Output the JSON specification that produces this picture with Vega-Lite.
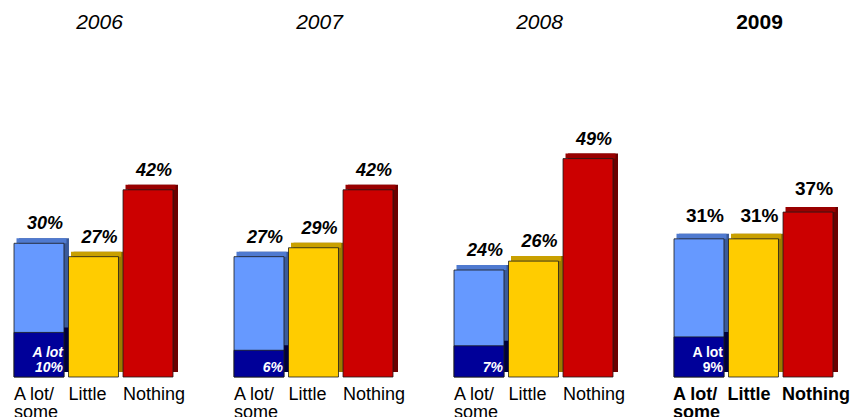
{
  "$schema": "https://vega.github.io/schema/vega-lite/v6.json",
  "background": "white",
  "padding": {"left": 13, "top": 12, "right": 0, "bottom": 0},
  "config": {
    "font": "Liberation Sans",
    "view": {"stroke": null},
    "title": {"fontSize": 21, "color": "black", "offset": 32, "anchor": "middle", "dx": 6}
  },
  "datasets": {
    "survey": [
      {"year": "2006", "cat": "A lot/some", "total": 30, "alot": 10, "label": "30%", "innerTop": "A lot", "inner": "10%"},
      {"year": "2006", "cat": "Little", "total": 27, "label": "27%"},
      {"year": "2006", "cat": "Nothing", "total": 42, "label": "42%"},
      {"year": "2007", "cat": "A lot/some", "total": 27, "alot": 6, "label": "27%", "inner": "6%"},
      {"year": "2007", "cat": "Little", "total": 29, "label": "29%"},
      {"year": "2007", "cat": "Nothing", "total": 42, "label": "42%"},
      {"year": "2008", "cat": "A lot/some", "total": 24, "alot": 7, "label": "24%", "inner": "7%"},
      {"year": "2008", "cat": "Little", "total": 26, "label": "26%"},
      {"year": "2008", "cat": "Nothing", "total": 49, "label": "49%"},
      {"year": "2009", "cat": "A lot/some", "total": 31, "alot": 9, "label": "31%", "innerTop": "A lot", "inner": "9%"},
      {"year": "2009", "cat": "Little", "total": 31, "label": "31%"},
      {"year": "2009", "cat": "Nothing", "total": 37, "label": "37%"}
    ]
  },
  "bounds": "flush",
  "spacing": 61,
  "hconcat": [
    {
      "width": 159, "height": 312,
      "title": {"text": "2006", "fontStyle": "italic", "fontWeight": "normal"},
      "data": {"name": "survey"},
      "transform": [{"filter": "datum.year === '2006'"}],
      "encoding": {
        "x": {"field": "cat", "type": "nominal", "sort": ["A lot/some", "Little", "Nothing"],
          "scale": {"paddingInner": 0.083, "paddingOuter": 0},
          "axis": {"title": null, "domain": false, "ticks": false, "labelAngle": 0, "labelAlign": "left", "labelOffset": -25, "labelPadding": 8, "labelBaseline": "top", "labelFontSize": 18, "labelColor": "black", "labelLineHeight": 18, "labelFontWeight": "normal",
            "labelExpr": "datum.label === 'A lot/some' ? ['A lot/', 'some'] : datum.label"}}
      },
      "layer": [
        {"mark": {"type": "bar", "xOffset": 5, "yOffset": -5},
          "encoding": {"y": {"field": "total", "type": "quantitative", "scale": {"domain": [0, 70]}, "axis": null},
            "color": {"field": "cat", "type": "nominal", "scale": {"domain": ["A lot/some", "Little", "Nothing"], "range": ["#3A5A9A", "#9C7A00", "#6B0000"]}, "legend": null}}},
        {"transform": [{"filter": "isValid(datum.alot)"}],
          "mark": {"type": "bar", "xOffset": 5, "yOffset": -5, "color": "#00003F"},
          "encoding": {"y": {"field": "alot", "type": "quantitative"}}},
        {"mark": {"type": "bar", "xOffset": 2.5, "yOffset": -5},
          "encoding": {"y": {"field": "total", "type": "quantitative"}, "y2": {"field": "total"},
            "color": {"field": "cat", "type": "nominal", "scale": {"domain": ["A lot/some", "Little", "Nothing"], "range": ["#4F7AD0", "#C9A000", "#990000"]}, "legend": null}}},
        {"mark": {"type": "bar", "stroke": "#1a1a1a", "strokeWidth": 0.8},
          "encoding": {"y": {"field": "total", "type": "quantitative"},
            "color": {"field": "cat", "type": "nominal", "scale": {"domain": ["A lot/some", "Little", "Nothing"], "range": ["#6699FF", "#FFCC00", "#CC0000"]}, "legend": null}}},
        {"transform": [{"filter": "isValid(datum.alot)"}],
          "mark": {"type": "bar", "color": "#000099", "stroke": "#1a1a1a", "strokeWidth": 0.8},
          "encoding": {"y": {"field": "alot", "type": "quantitative"}}},
        {"mark": {"type": "text", "dx": 6, "dy": -14, "baseline": "alphabetic", "fontSize": 18, "fontWeight": "bold", "fontStyle": "italic", "color": "black"},
          "encoding": {"y": {"field": "total", "type": "quantitative"}, "text": {"field": "label"}}},
        {"transform": [{"filter": "isValid(datum.inner)"}],
          "mark": {"type": "text", "align": "right", "dx": 24, "dy": -5, "baseline": "alphabetic", "fontSize": 14, "fontWeight": "bold", "fontStyle": "italic", "color": "white"},
          "encoding": {"y": {"datum": 0, "type": "quantitative"}, "text": {"field": "inner"}}},
        {"transform": [{"filter": "isValid(datum.innerTop)"}],
          "mark": {"type": "text", "align": "right", "dx": 24, "dy": -20, "baseline": "alphabetic", "fontSize": 14, "fontWeight": "bold", "fontStyle": "italic", "color": "white"},
          "encoding": {"y": {"datum": 0, "type": "quantitative"}, "text": {"field": "innerTop"}}}
      ],
      "resolve": {"scale": {"color": "independent"}}
    },
    {
      "width": 159, "height": 312,
      "title": {"text": "2007", "fontStyle": "italic", "fontWeight": "normal"},
      "data": {"name": "survey"},
      "transform": [{"filter": "datum.year === '2007'"}],
      "encoding": {
        "x": {"field": "cat", "type": "nominal", "sort": ["A lot/some", "Little", "Nothing"],
          "scale": {"paddingInner": 0.083, "paddingOuter": 0},
          "axis": {"title": null, "domain": false, "ticks": false, "labelAngle": 0, "labelAlign": "left", "labelOffset": -25, "labelPadding": 8, "labelBaseline": "top", "labelFontSize": 18, "labelColor": "black", "labelLineHeight": 18, "labelFontWeight": "normal",
            "labelExpr": "datum.label === 'A lot/some' ? ['A lot/', 'some'] : datum.label"}}
      },
      "layer": [
        {"mark": {"type": "bar", "xOffset": 5, "yOffset": -5},
          "encoding": {"y": {"field": "total", "type": "quantitative", "scale": {"domain": [0, 70]}, "axis": null},
            "color": {"field": "cat", "type": "nominal", "scale": {"domain": ["A lot/some", "Little", "Nothing"], "range": ["#3A5A9A", "#9C7A00", "#6B0000"]}, "legend": null}}},
        {"transform": [{"filter": "isValid(datum.alot)"}],
          "mark": {"type": "bar", "xOffset": 5, "yOffset": -5, "color": "#00003F"},
          "encoding": {"y": {"field": "alot", "type": "quantitative"}}},
        {"mark": {"type": "bar", "xOffset": 2.5, "yOffset": -5},
          "encoding": {"y": {"field": "total", "type": "quantitative"}, "y2": {"field": "total"},
            "color": {"field": "cat", "type": "nominal", "scale": {"domain": ["A lot/some", "Little", "Nothing"], "range": ["#4F7AD0", "#C9A000", "#990000"]}, "legend": null}}},
        {"mark": {"type": "bar", "stroke": "#1a1a1a", "strokeWidth": 0.8},
          "encoding": {"y": {"field": "total", "type": "quantitative"},
            "color": {"field": "cat", "type": "nominal", "scale": {"domain": ["A lot/some", "Little", "Nothing"], "range": ["#6699FF", "#FFCC00", "#CC0000"]}, "legend": null}}},
        {"transform": [{"filter": "isValid(datum.alot)"}],
          "mark": {"type": "bar", "color": "#000099", "stroke": "#1a1a1a", "strokeWidth": 0.8},
          "encoding": {"y": {"field": "alot", "type": "quantitative"}}},
        {"mark": {"type": "text", "dx": 6, "dy": -14, "baseline": "alphabetic", "fontSize": 18, "fontWeight": "bold", "fontStyle": "italic", "color": "black"},
          "encoding": {"y": {"field": "total", "type": "quantitative"}, "text": {"field": "label"}}},
        {"transform": [{"filter": "isValid(datum.inner)"}],
          "mark": {"type": "text", "align": "right", "dx": 24, "dy": -5, "baseline": "alphabetic", "fontSize": 14, "fontWeight": "bold", "fontStyle": "italic", "color": "white"},
          "encoding": {"y": {"datum": 0, "type": "quantitative"}, "text": {"field": "inner"}}}
      ],
      "resolve": {"scale": {"color": "independent"}}
    },
    {
      "width": 159, "height": 312,
      "title": {"text": "2008", "fontStyle": "italic", "fontWeight": "normal"},
      "data": {"name": "survey"},
      "transform": [{"filter": "datum.year === '2008'"}],
      "encoding": {
        "x": {"field": "cat", "type": "nominal", "sort": ["A lot/some", "Little", "Nothing"],
          "scale": {"paddingInner": 0.083, "paddingOuter": 0},
          "axis": {"title": null, "domain": false, "ticks": false, "labelAngle": 0, "labelAlign": "left", "labelOffset": -25, "labelPadding": 8, "labelBaseline": "top", "labelFontSize": 18, "labelColor": "black", "labelLineHeight": 18, "labelFontWeight": "normal",
            "labelExpr": "datum.label === 'A lot/some' ? ['A lot/', 'some'] : datum.label"}}
      },
      "layer": [
        {"mark": {"type": "bar", "xOffset": 5, "yOffset": -5},
          "encoding": {"y": {"field": "total", "type": "quantitative", "scale": {"domain": [0, 70]}, "axis": null},
            "color": {"field": "cat", "type": "nominal", "scale": {"domain": ["A lot/some", "Little", "Nothing"], "range": ["#3A5A9A", "#9C7A00", "#6B0000"]}, "legend": null}}},
        {"transform": [{"filter": "isValid(datum.alot)"}],
          "mark": {"type": "bar", "xOffset": 5, "yOffset": -5, "color": "#00003F"},
          "encoding": {"y": {"field": "alot", "type": "quantitative"}}},
        {"mark": {"type": "bar", "xOffset": 2.5, "yOffset": -5},
          "encoding": {"y": {"field": "total", "type": "quantitative"}, "y2": {"field": "total"},
            "color": {"field": "cat", "type": "nominal", "scale": {"domain": ["A lot/some", "Little", "Nothing"], "range": ["#4F7AD0", "#C9A000", "#990000"]}, "legend": null}}},
        {"mark": {"type": "bar", "stroke": "#1a1a1a", "strokeWidth": 0.8},
          "encoding": {"y": {"field": "total", "type": "quantitative"},
            "color": {"field": "cat", "type": "nominal", "scale": {"domain": ["A lot/some", "Little", "Nothing"], "range": ["#6699FF", "#FFCC00", "#CC0000"]}, "legend": null}}},
        {"transform": [{"filter": "isValid(datum.alot)"}],
          "mark": {"type": "bar", "color": "#000099", "stroke": "#1a1a1a", "strokeWidth": 0.8},
          "encoding": {"y": {"field": "alot", "type": "quantitative"}}},
        {"mark": {"type": "text", "dx": 6, "dy": -14, "baseline": "alphabetic", "fontSize": 18, "fontWeight": "bold", "fontStyle": "italic", "color": "black"},
          "encoding": {"y": {"field": "total", "type": "quantitative"}, "text": {"field": "label"}}},
        {"transform": [{"filter": "isValid(datum.inner)"}],
          "mark": {"type": "text", "align": "right", "dx": 24, "dy": -5, "baseline": "alphabetic", "fontSize": 14, "fontWeight": "bold", "fontStyle": "italic", "color": "white"},
          "encoding": {"y": {"datum": 0, "type": "quantitative"}, "text": {"field": "inner"}}}
      ],
      "resolve": {"scale": {"color": "independent"}}
    },
    {
      "width": 159, "height": 312,
      "title": {"text": "2009", "fontStyle": "normal", "fontWeight": "bold"},
      "data": {"name": "survey"},
      "transform": [{"filter": "datum.year === '2009'"}],
      "encoding": {
        "x": {"field": "cat", "type": "nominal", "sort": ["A lot/some", "Little", "Nothing"],
          "scale": {"paddingInner": 0.083, "paddingOuter": 0},
          "axis": {"title": null, "domain": false, "ticks": false, "labelAngle": 0, "labelAlign": "left", "labelOffset": -26, "labelPadding": 8, "labelBaseline": "top", "labelFontSize": 18, "labelColor": "black", "labelLineHeight": 18, "labelFontWeight": "bold",
            "labelExpr": "datum.label === 'A lot/some' ? ['A lot/', 'some'] : datum.label"}}
      },
      "layer": [
        {"mark": {"type": "bar", "xOffset": 5, "yOffset": -5},
          "encoding": {"y": {"field": "total", "type": "quantitative", "scale": {"domain": [0, 70]}, "axis": null},
            "color": {"field": "cat", "type": "nominal", "scale": {"domain": ["A lot/some", "Little", "Nothing"], "range": ["#3A5A9A", "#9C7A00", "#6B0000"]}, "legend": null}}},
        {"transform": [{"filter": "isValid(datum.alot)"}],
          "mark": {"type": "bar", "xOffset": 5, "yOffset": -5, "color": "#00003F"},
          "encoding": {"y": {"field": "alot", "type": "quantitative"}}},
        {"mark": {"type": "bar", "xOffset": 2.5, "yOffset": -5},
          "encoding": {"y": {"field": "total", "type": "quantitative"}, "y2": {"field": "total"},
            "color": {"field": "cat", "type": "nominal", "scale": {"domain": ["A lot/some", "Little", "Nothing"], "range": ["#4F7AD0", "#C9A000", "#990000"]}, "legend": null}}},
        {"mark": {"type": "bar", "stroke": "#1a1a1a", "strokeWidth": 0.8},
          "encoding": {"y": {"field": "total", "type": "quantitative"},
            "color": {"field": "cat", "type": "nominal", "scale": {"domain": ["A lot/some", "Little", "Nothing"], "range": ["#6699FF", "#FFCC00", "#CC0000"]}, "legend": null}}},
        {"transform": [{"filter": "isValid(datum.alot)"}],
          "mark": {"type": "bar", "color": "#000099", "stroke": "#1a1a1a", "strokeWidth": 0.8},
          "encoding": {"y": {"field": "alot", "type": "quantitative"}}},
        {"mark": {"type": "text", "dx": 6, "dy": -17, "baseline": "alphabetic", "fontSize": 19, "fontWeight": "bold", "fontStyle": "normal", "color": "black"},
          "encoding": {"y": {"field": "total", "type": "quantitative"}, "text": {"field": "label"}}},
        {"transform": [{"filter": "isValid(datum.inner)"}],
          "mark": {"type": "text", "align": "right", "dx": 24, "dy": -5, "baseline": "alphabetic", "fontSize": 14, "fontWeight": "bold", "fontStyle": "normal", "color": "white"},
          "encoding": {"y": {"datum": 0, "type": "quantitative"}, "text": {"field": "inner"}}},
        {"transform": [{"filter": "isValid(datum.innerTop)"}],
          "mark": {"type": "text", "align": "right", "dx": 24, "dy": -20, "baseline": "alphabetic", "fontSize": 14, "fontWeight": "bold", "fontStyle": "normal", "color": "white"},
          "encoding": {"y": {"datum": 0, "type": "quantitative"}, "text": {"field": "innerTop"}}}
      ],
      "resolve": {"scale": {"color": "independent"}}
    }
  ]
}
